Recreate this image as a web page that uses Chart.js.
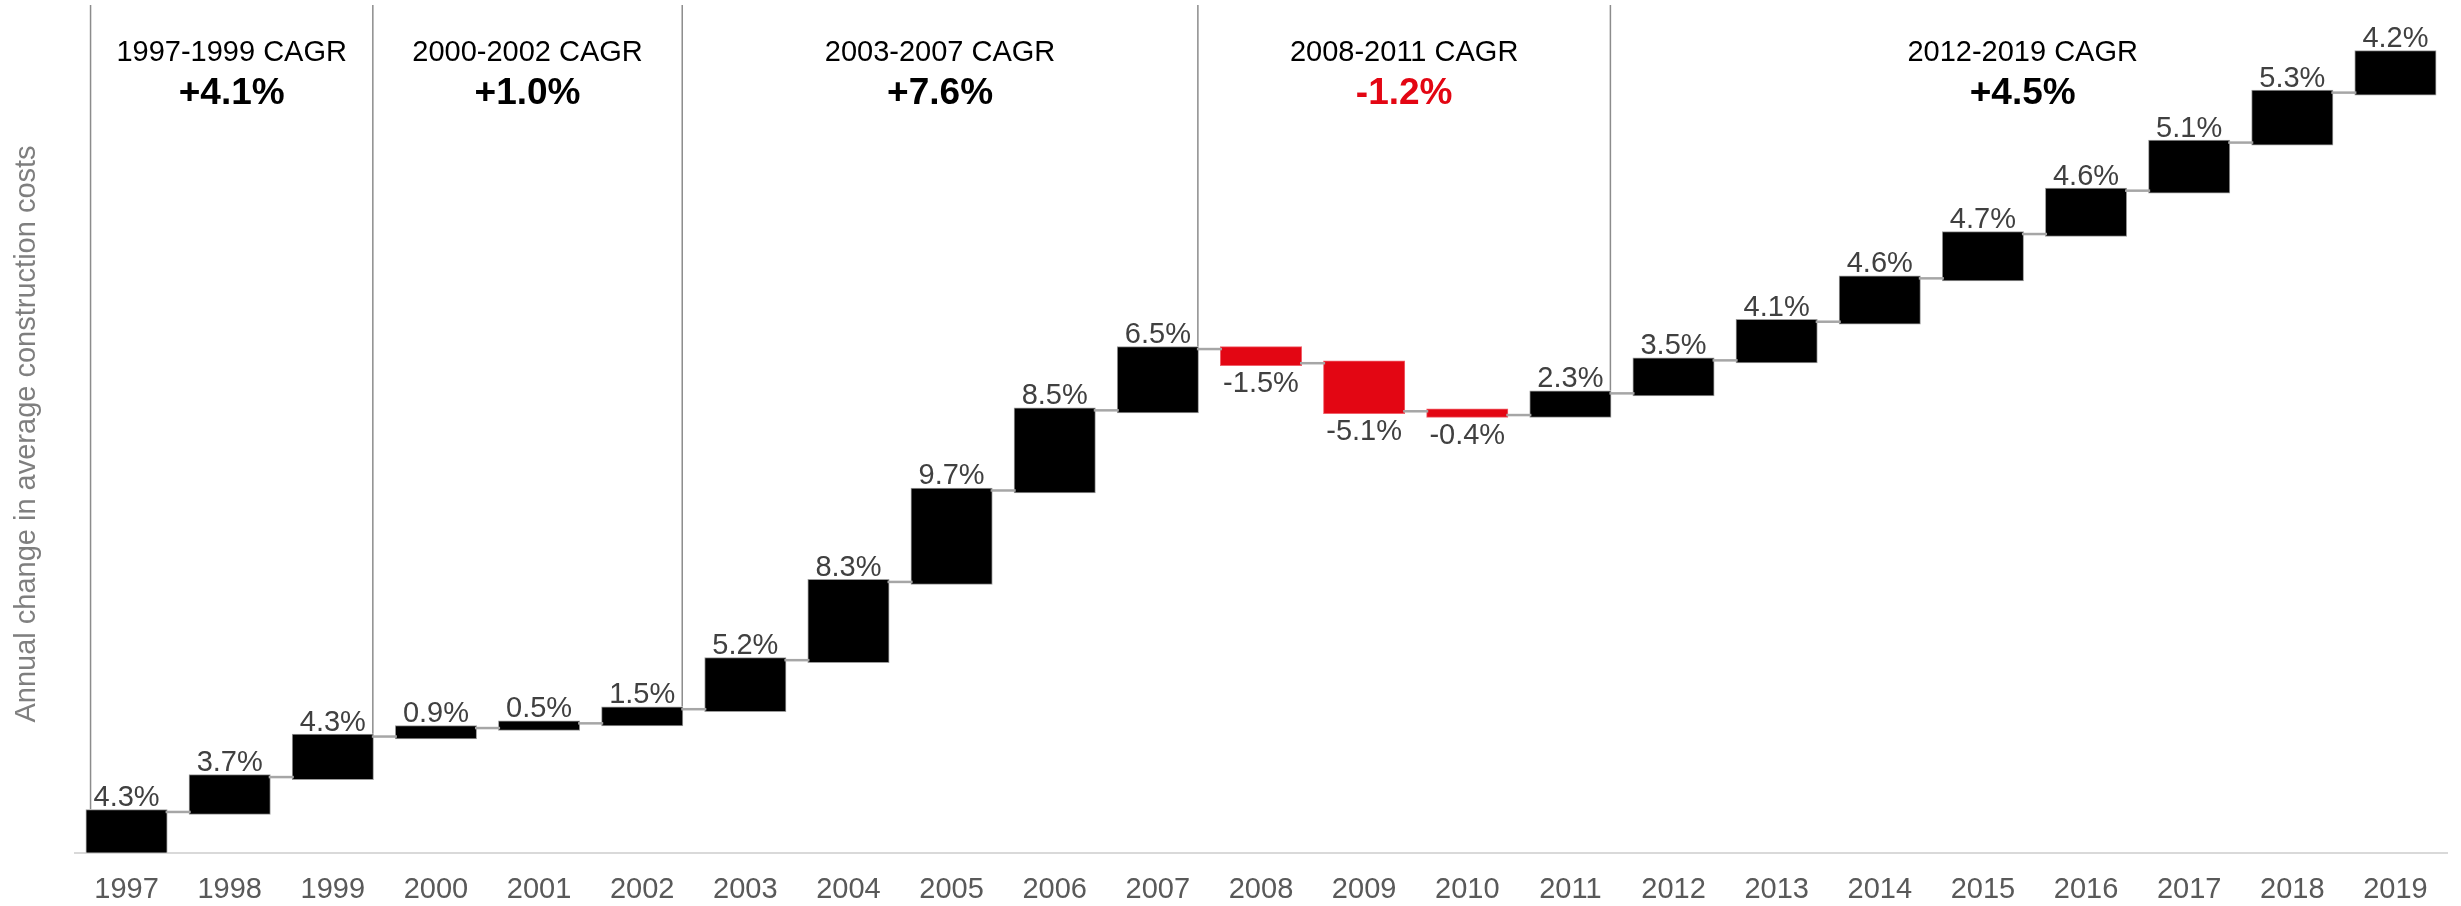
<!DOCTYPE html>
<html>
<head>
<meta charset="utf-8">
<script src="https://cdn.jsdelivr.net/npm/chart.js@4"></script>
<style>
  html, body { margin: 0; padding: 0; background: #fff; }
  #wrap { width: 2461px; height: 906px; position: relative; }
</style>
</head>
<body>
<div id="wrap"><canvas id="myChart"></canvas></div>
<script>
'use strict';

// years on the x axis
const years = ['1997', '1998', '1999', '2000', '2001', '2002', '2003', '2004', '2005', '2006', '2007', '2008',
  '2009', '2010', '2011', '2012', '2013', '2014', '2015', '2016', '2017', '2018', '2019'];
// annual change, %
const changes = [4.3, 3.7, 4.3, 0.9, 0.5, 1.5, 5.2, 8.3, 9.7, 8.5, 6.5, -1.5,
  -5.1, -0.4, 2.3, 3.5, 4.1, 4.6, 4.7, 4.6, 5.1, 5.3, 4.2];
// CAGR periods: first and last year index, title, value
const periodStart = [0, 3, 6, 11, 15];
const periodEnd = [2, 5, 10, 14, 22];
const periodTitles = ['1997-1999 CAGR', '2000-2002 CAGR', '2003-2007 CAGR', '2008-2011 CAGR', '2012-2019 CAGR'];
const periodCagr = ['+4.1%', '+1.0%', '+7.6%', '-1.2%', '+4.5%'];

const black = '#000000';
const red = '#e30613';
const fontFamily = '"Liberation Sans", Arial, sans-serif';

// waterfall: each bar floats from the running total before to the running total after
let floating = [];
let running = 0;
for (let i = 0; i < changes.length; i++) {
  let start = running;
  running = Math.round((running + changes[i]) * 10) / 10;
  floating.push([start, running]);
}

function barBox(chart, i) {
  let el = chart.getDatasetMeta(0).data[i];
  let half = el.width / 2 + 2.8;
  return { left: el.x - half, right: el.x + half };
}

const waterfallPlugin = {
  id: 'waterfallExtras',
  afterDatasetsDraw(chart) {
    let ctx = chart.ctx;
    let y = chart.scales.y;
    let area = chart.chartArea;
    ctx.save();

    // connectors between bars
    ctx.strokeStyle = '#a6a6a6';
    ctx.lineWidth = 2.5;
    for (let i = 0; i < floating.length - 1; i++) {
      let level = y.getPixelForValue(floating[i][1]);
      let a = barBox(chart, i);
      let b = barBox(chart, i + 1);
      ctx.beginPath();
      ctx.moveTo(a.right - 2, level);
      ctx.lineTo(b.left + 2, level);
      ctx.stroke();
    }

    // period separators
    ctx.strokeStyle = '#8c8c8c';
    ctx.lineWidth = 1.5;
    let top = 5;
    let first = barBox(chart, 0);
    let lineXs = [first.left + 5];
    let lineEnds = [y.getPixelForValue(Math.max(...floating[0])) - 2.8];
    for (let p = 0; p < periodEnd.length - 1; p++) {
      let k = periodEnd[p];
      lineXs.push(barBox(chart, k).right - 1);
      lineEnds.push(y.getPixelForValue(Math.max(...floating[k])) - 2.8);
    }
    for (let j = 0; j < lineXs.length; j++) {
      ctx.beginPath();
      ctx.moveTo(lineXs[j], top);
      ctx.lineTo(lineXs[j], lineEnds[j]);
      ctx.stroke();
    }

    // period headers
    ctx.textAlign = 'center';
    ctx.textBaseline = 'middle';
    lineXs.push(area.right - 12);
    for (let p = 0; p < periodTitles.length; p++) {
      let cx = (lineXs[p] + lineXs[p + 1]) / 2;
      ctx.fillStyle = black;
      ctx.font = '29px ' + fontFamily;
      ctx.fillText(periodTitles[p], cx, 53);
      ctx.fillStyle = periodCagr[p].startsWith('-') ? red : black;
      ctx.font = 'bold 37px ' + fontFamily;
      ctx.fillText(periodCagr[p], cx, 94);
    }

    // value labels
    ctx.fillStyle = '#404040';
    ctx.font = '29px ' + fontFamily;
    for (let i = 0; i < changes.length; i++) {
      let el = chart.getDatasetMeta(0).data[i];
      let label = changes[i].toFixed(1) + '%';
      if (changes[i] >= 0) {
        ctx.textBaseline = 'alphabetic';
        ctx.fillText(label, el.x, y.getPixelForValue(floating[i][1]) - 6);
      } else {
        ctx.textBaseline = 'top';
        ctx.fillText(label, el.x, y.getPixelForValue(floating[i][1]) + 6);
      }
    }

    // y axis title
    ctx.translate(27, 434);
    ctx.rotate(-Math.PI / 2);
    ctx.textBaseline = 'middle';
    ctx.fillStyle = '#7f7f7f';
    ctx.font = '29px ' + fontFamily;
    ctx.fillText('Annual change in average construction costs', 0, 0);
    ctx.restore();
  }
};

const config = {
  type: 'bar',
  data: {
    labels: years,
    datasets: [
      {
        data: floating,
        backgroundColor: changes.map(v => v < 0 ? red : black),
        borderColor: changes.map(v => v < 0 ? '#f0606a' : '#9a9a9a'),
        borderWidth: 1,
        borderSkipped: false,
        inflateAmount: 2.8,
        categoryPercentage: 1,
        barPercentage: 0.741
      }
    ]
  },
  options: {
    responsive: true,
    maintainAspectRatio: false,
    animation: false,
    layout: {
      padding: { left: 75, right: 14, top: 4, bottom: 3 }
    },
    plugins: {
      legend: { display: false },
      tooltip: { enabled: false }
    },
    scales: {
      x: {
        grid: { display: false },
        border: { display: true, color: '#d9d9d9', width: 2 },
        ticks: {
          color: '#595959',
          padding: 12,
          font: { size: 29, family: fontFamily }
        },
        afterFit(scale) {
          scale.height = 50.5;
        }
      },
      y: {
        display: false,
        min: 0,
        max: 90
      }
    }
  },
  plugins: [waterfallPlugin]
};

let chartCanvas = document.getElementById('myChart').getContext('2d');
const myChart = new Chart(chartCanvas, config);
</script>
</body>
</html>
